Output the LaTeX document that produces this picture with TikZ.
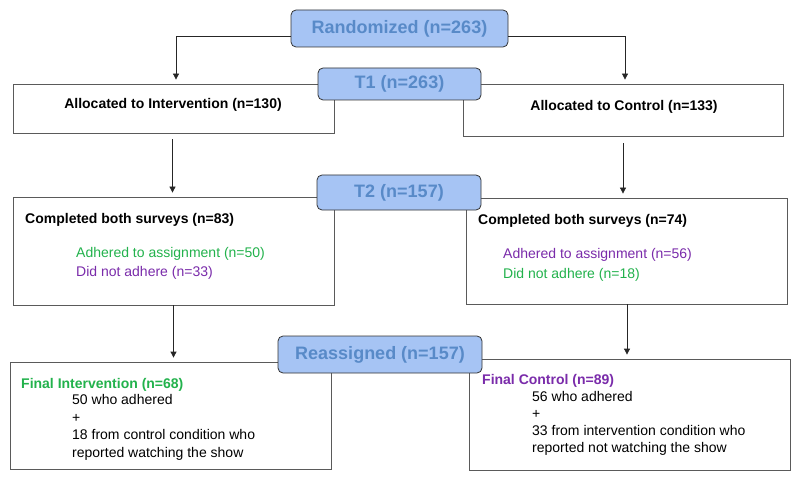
\documentclass[tikz,border=0pt]{standalone}
\usepackage{fontspec}
\setmainfont{Liberation Sans}
\usetikzlibrary{arrows.meta}
\definecolor{bluefill}{RGB}{166,196,244}
\definecolor{bluetext}{RGB}{88,138,200}
\definecolor{greentext}{RGB}{34,178,76}
\definecolor{purpletext}{RGB}{122,43,170}
\definecolor{boxline}{RGB}{90,90,90}
\tikzset{
  wbox/.style={draw=boxline, line width=0.8pt, fill=white, inner sep=0pt},
  bbox/.style={draw=black!80, line width=0.8pt, fill=bluefill, rounded corners=5pt,
    inner sep=0pt, font=\fontsize{18}{21}\selectfont\bfseries, text=bluetext},
  arr/.style={draw=black!85, line width=0.8pt, -{Triangle[length=6pt,width=6pt]}},
  txt/.style={inner sep=0pt, font=\fontsize{14}{17}\selectfont},
  btxt/.style={inner sep=0pt, font=\fontsize{14}{17}\selectfont\bfseries},
}
\begin{document}
\begin{tikzpicture}[x=1pt,y=-1pt]
\useasboundingbox (0,0) rectangle (800,481);
% white boxes
\node[wbox, minimum width=321pt, minimum height=49pt] (ai) at (173.5,108.5) {};
\node[wbox, minimum width=320pt, minimum height=52pt] (ac) at (623,110) {};
\node[wbox, minimum width=321pt, minimum height=108pt] (ci) at (173.5,251) {};
\node[wbox, minimum width=321pt, minimum height=106pt] (cc) at (626.5,251) {};
\node[wbox, minimum width=321pt, minimum height=107pt] (fi) at (170.5,415.5) {};
\node[wbox, minimum width=321pt, minimum height=111pt] (fc) at (629.5,414.5) {};
% blue boxes
\node[bbox, minimum width=217pt, minimum height=37pt] (rand) at (399.5,28.5) {Randomized (n=263)};
\node[bbox, minimum width=163pt, minimum height=32pt] (t1) at (399.5,84) {T1 (n=263)};
\node[bbox, minimum width=164pt, minimum height=35pt] (t2) at (399,192.5) {\raisebox{-2pt}{T2 (n=157)}};
\node[bbox, minimum width=204pt, minimum height=37pt] (reas) at (380,354.5) {\raisebox{-1.5pt}{Reassigned (n=157)}};
% connectors
\draw[arr, shorten >=4pt] ([yshift=-7.5pt]rand.west) -| ([xshift=2.5pt]ai.north);
\draw[arr, shorten >=4pt] ([yshift=-7.5pt]rand.east) -| ([xshift=2pt]ac.north);
\draw[arr, shorten <=6pt, shorten >=4pt] ([xshift=-1pt]ai.south) -- ([xshift=-1pt]ai.south |- ci.north);
\draw[arr, shorten <=7pt, shorten >=4pt] (ac.south) -- (ac.south |- cc.north);
\draw[arr, shorten >=4pt] (ci.south) -- (ci.south |- fi.north);
\draw[arr, shorten >=4pt] ([xshift=0.5pt]cc.south) -- ([xshift=0.5pt]cc.south |- fc.north);
% texts
\node[btxt] (ait) at (173,105) {Allocated to Intervention (n=130)};
\node[btxt] (act) at (624,107) {Allocated to Control (n=133)};
\node[btxt, anchor=base west] (cit) at (25,223.3) {Completed both surveys (n=83)};
\node[txt, anchor=base west, text=greentext] (ci1) at (76,257.5) {Adhered to assignment (n=50)};
\node[txt, anchor=base west, text=purpletext] (ci2) at (76,276) {Did not adhere (n=33)};
\node[btxt, anchor=base west] (cct) at (478,225) {Completed both surveys (n=74)};
\node[txt, anchor=base west, text=purpletext] (cc1) at (503,258) {Adhered to assignment (n=56)};
\node[txt, anchor=base west, text=greentext] (cc2) at (503,278) {Did not adhere (n=18)};
\node[btxt, anchor=base west, text=greentext] (fit) at (21,388) {Final Intervention (n=68)};
\node[txt, anchor=base west] (fi1) at (72,404) {50 who adhered};
\node[txt, anchor=base west] (fi2) at (72,422) {+};
\node[txt, anchor=base west] (fi3) at (72,439) {18 from control condition who};
\node[txt, anchor=base west] (fi4) at (72,457) {reported watching the show};
\node[btxt, anchor=base west, text=purpletext] (fct) at (482,384) {Final Control (n=89)};
\node[txt, anchor=base west] (fc1) at (532,401) {56 who adhered};
\node[txt, anchor=base west] (fc2) at (532,418.5) {+};
\node[txt, anchor=base west] (fc3) at (532,435) {33 from intervention condition who};
\node[txt, anchor=base west] (fc4) at (532,452.7) {reported not watching the show};
\end{tikzpicture}
\end{document}
